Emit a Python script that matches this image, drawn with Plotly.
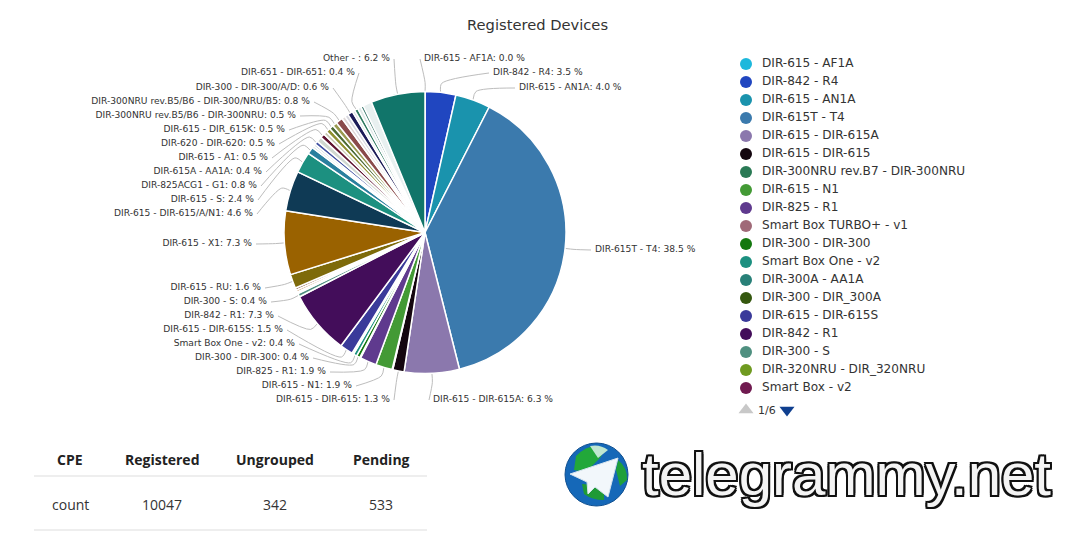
import math
import plotly.graph_objects as go

FONT = "DejaVu Sans"
W, H = 1068, 535
CX, CY, R = 425, 232.5, 141

# pie slices, clockwise from twelve o'clock
slice_names = [
    "DIR-615 - AF1A", "DIR-842 - R4", "DIR-615 - AN1A", "DIR-615T - T4", "DIR-615 - DIR-615A",
    "DIR-615 - DIR-615", "DIR-300NRU rev.B7 - DIR-300NRU", "DIR-615 - N1", "DIR-825 - R1",
    "Smart Box TURBO+ - v1", "DIR-300 - DIR-300", "Smart Box One - v2", "DIR-300A - AA1A",
    "DIR-300 - DIR_300A", "DIR-615 - DIR-615S", "DIR-842 - R1", "DIR-300 - S",
    "DIR-320NRU - DIR_320NRU", "Smart Box - v2", "unlisted 1", "unlisted 2", "DIR-615 - RU",
    "DIR-615 - X1", "DIR-615 - DIR-615/A/N1", "DIR-615 - S", "DIR-825ACG1 - G1",
    "unlisted 3", "unlisted 4", "DIR-615A - AA1A", "unlisted 5", "DIR-615 - A1",
    "unlisted 6", "DIR-620 - DIR-620", "DIR-615 - DIR_615K", "DIR-300NRU rev.B5/B6 - DIR-300NRU",
    "DIR-300NRU rev.B5/B6 - DIR-300/NRU/B5", "unlisted 7", "unlisted 8", "DIR-300 - DIR-300/A/D",
    "unlisted 9", "DIR-651 - DIR-651", "unlisted 10", "unlisted 11", "unlisted 12", "Other - ",
]
slice_values = [
    0.02, 3.5, 4.0, 38.5, 6.3,
    1.3, 0.08, 1.9, 1.9,
    0.1, 0.4, 0.4, 0.1,
    0.1, 1.5, 7.3, 0.4,
    0.1, 0.1, 0.25, 0.25, 1.6,
    7.3, 4.6, 2.4, 0.8,
    0.25, 0.25, 0.4, 0.6, 0.5,
    0.4, 0.5, 0.5, 0.5,
    0.8, 0.4, 0.4, 0.6,
    0.3, 0.4, 0.4, 0.3, 1.0, 6.2,
]
slice_colors = [
    "#1db8dc", "#2046c0", "#1a93ad", "#3b7aad", "#8b78ad",
    "#14060f", "#2a7a55", "#439a35", "#5f3a8e",
    "#a06a78", "#14780f", "#1c9080", "#288078",
    "#35580f", "#3a3a9a", "#430d5a", "#4f9080",
    "#6f9a20", "#701a50", "#c09060", "#6a3010", "#7e6a0a",
    "#9a6200", "#0f3a55", "#1c9080", "#2a7f9e",
    "#c8d8d8", "#b8c8d0", "#3f4fa0", "#d0d8d0", "#5e1230",
    "#c8c8b0", "#8f8f30", "#4d6b35", "#9a9a50",
    "#8a4a4a", "#e0d8d8", "#d8d8e0", "#1c1c58",
    "#d8e0e0", "#2f7a60", "#e0e8e8", "#3f7a70", "#e8f0f0", "#11756a",
]

# slices with a leader line, and where their text sits on the page
left_labels = [
    "Other - ", "DIR-651 - DIR-651", "DIR-300 - DIR-300/A/D", "DIR-300NRU rev.B5/B6 - DIR-300/NRU/B5",
    "DIR-300NRU rev.B5/B6 - DIR-300NRU", "DIR-615 - DIR_615K", "DIR-620 - DIR-620", "DIR-615 - A1",
    "DIR-615A - AA1A", "DIR-825ACG1 - G1", "DIR-615 - S", "DIR-615 - DIR-615/A/N1", "DIR-615 - X1",
    "DIR-615 - RU", "DIR-300 - S", "DIR-842 - R1", "DIR-615 - DIR-615S", "Smart Box One - v2",
    "DIR-300 - DIR-300", "DIR-825 - R1", "DIR-615 - N1", "DIR-615 - DIR-615",
]
left_label_x = [390, 355, 329, 310, 296, 285, 275, 268, 262, 257, 254, 253, 252,
                261, 267, 274, 283, 295, 309, 326, 352, 390]
left_label_y = [59, 73, 88, 102, 116, 130, 144, 158, 172, 186, 200, 214, 244,
                288, 302, 316, 330, 344, 358, 372, 386, 400]
right_labels = ["DIR-615 - AF1A", "DIR-842 - R4", "DIR-615 - AN1A", "DIR-615T - T4", "DIR-615 - DIR-615A"]
right_label_x = [424, 493, 519, 595, 433]
right_label_y = [59, 73, 88, 250, 400]

# first page of the legend
legend_names = slice_names[:19]
legend_colors = slice_colors[:19]
legend_y = [64 + 18 * i for i in range(19)]

table_headers = ["CPE", "Registered", "Ungrouped", "Pending"]
table_row = ["count", "10047", "342", "533"]
table_x = [70, 162, 275, 381]


def label_text(name):
    value = slice_values[slice_names.index(name)]
    shown = 0.0 if name == "DIR-615 - AF1A" else value
    return f"{name}: {shown:.1f} %"


def rim_point(name, extra=0):
    i = slice_names.index(name)
    mid = (sum(slice_values[:i]) + slice_values[i] / 2) / sum(slice_values)
    a = mid * 2 * math.pi
    return CX + (R + extra) * math.sin(a), CY - (R + extra) * math.cos(a)


def leader(name, x, y, offset):
    x0, y0 = rim_point(name)
    x1, y1 = rim_point(name, 9)
    return [x0, x1, x + offset], [y0, y1, y]


fig = go.Figure()

fig.add_trace(go.Pie(
    labels=slice_names, values=slice_values, sort=False, direction="clockwise", rotation=0,
    marker=dict(colors=slice_colors, line=dict(color="#ffffff", width=1.5)),
    textinfo="none", showlegend=False, hoverinfo="label+percent",
    domain=dict(x=[(CX - R) / W, (CX + R) / W], y=[1 - (CY + R) / H, 1 - (CY - R) / H]),
))

for name, x, y in zip(left_labels, left_label_x, left_label_y):
    xs, ys = leader(name, x, y, 4)
    fig.add_trace(go.Scatter(x=xs, y=ys, mode="lines", showlegend=False, hoverinfo="skip",
                             line=dict(color="#bdbdbd", width=1, shape="spline", smoothing=0.8)))
for name, x, y in zip(right_labels, right_label_x, right_label_y):
    xs, ys = leader(name, x, y, -4)
    fig.add_trace(go.Scatter(x=xs, y=ys, mode="lines", showlegend=False, hoverinfo="skip",
                             line=dict(color="#bdbdbd", width=1, shape="spline", smoothing=0.8)))

fig.add_trace(go.Scatter(
    x=left_label_x, y=left_label_y, mode="text", text=[label_text(n) for n in left_labels],
    textposition="middle left", textfont=dict(family=FONT, size=9.15, color="#333333"),
    showlegend=False, hoverinfo="skip",
))
fig.add_trace(go.Scatter(
    x=right_label_x, y=right_label_y, mode="text", text=[label_text(n) for n in right_labels],
    textposition="middle right", textfont=dict(family=FONT, size=9.15, color="#333333"),
    showlegend=False, hoverinfo="skip",
))

# legend
fig.add_trace(go.Scatter(
    x=[746] * len(legend_y), y=legend_y, mode="markers",
    marker=dict(size=12, color=legend_colors), showlegend=False, hoverinfo="skip",
))
fig.add_trace(go.Scatter(
    x=[762] * len(legend_y), y=legend_y, mode="text", text=legend_names,
    textposition="middle right", textfont=dict(family=FONT, size=12.1, color="#333333"),
    showlegend=False, hoverinfo="skip",
))
fig.add_trace(go.Scatter(
    x=[746, 787], y=[410, 410], mode="markers",
    marker=dict(size=13, symbol=["triangle-up", "triangle-down"], color=["#c8c8c8", "#0f3f8f"]),
    showlegend=False, hoverinfo="skip",
))
fig.add_annotation(x=767, y=410, text="1/6", showarrow=False, font=dict(family=FONT, size=11, color="#333333"))

fig.add_annotation(x=537.5, y=24, text="Registered Devices", showarrow=False,
                   font=dict(family=FONT, size=14.7, color="#333333"))

# table under the pie
for label, value, x in zip(table_headers, table_row, table_x):
    fig.add_annotation(x=x, y=459, text=f"<b>{label}</b>", showarrow=False,
                       font=dict(family="Open Sans", size=14, color="#222222"))
    fig.add_annotation(x=x, y=504, text=value, showarrow=False,
                       font=dict(family="Open Sans", size=14, color="#333333"))
for y in (476, 530):
    fig.add_shape(type="line", x0=34, x1=427, y0=y, y1=y, line=dict(color="#dddddd", width=1))

# telegrammy.net badge
fig.add_shape(type="circle", x0=565, x1=628, y0=443, y1=506, fillcolor="#1568b8", line=dict(color="#0f4f90", width=1))
fig.add_shape(type="path", path="M 576 456 Q 586 446 596 446 Q 606 450 600 458 L 586 472 L 574 470 Z",
              fillcolor="#22a83a", line=dict(width=0))
fig.add_shape(type="path", path="M 590 446 Q 600 444 608 450 L 598 458 Z",
              fillcolor="#bfe6d0", line=dict(width=0))
fig.add_shape(type="path", path="M 618 460 Q 628 468 627 480 L 620 486 L 616 470 Z",
              fillcolor="#1fa03a", line=dict(width=0))
fig.add_shape(type="path", path="M 582 484 L 604 486 L 604 500 Q 592 500 584 494 Z",
              fillcolor="#1f9a35", line=dict(width=0))
fig.add_shape(type="path", path="M 618 458 L 570 474 L 587 482 L 588 494 L 595 487 L 608 497 Z",
              fillcolor="#f2f7fb", line=dict(color="#d5e3ee", width=1))
outline = ", ".join(f"{dx}px {dy}px 0 #111111" for dx in (-2, 0, 2) for dy in (-2, 0, 2))
fig.add_annotation(x=640, y=474, xanchor="left", text="telegrammy.net", showarrow=False,
                   font=dict(family="Liberation Sans", size=60, color="#f4f4f4", shadow=outline))

fig.update_xaxes(range=[0, W], visible=False, domain=[0, 1], fixedrange=True)
fig.update_yaxes(range=[H, 0], visible=False, domain=[0, 1], fixedrange=True)
fig.update_layout(width=W, height=H, margin=dict(l=0, r=0, t=0, b=0),
                  paper_bgcolor="#ffffff", plot_bgcolor="#ffffff")

fig.write_html("out.html", config=dict(displayModeBar=False), post_script="document.body.style.margin='0';")
